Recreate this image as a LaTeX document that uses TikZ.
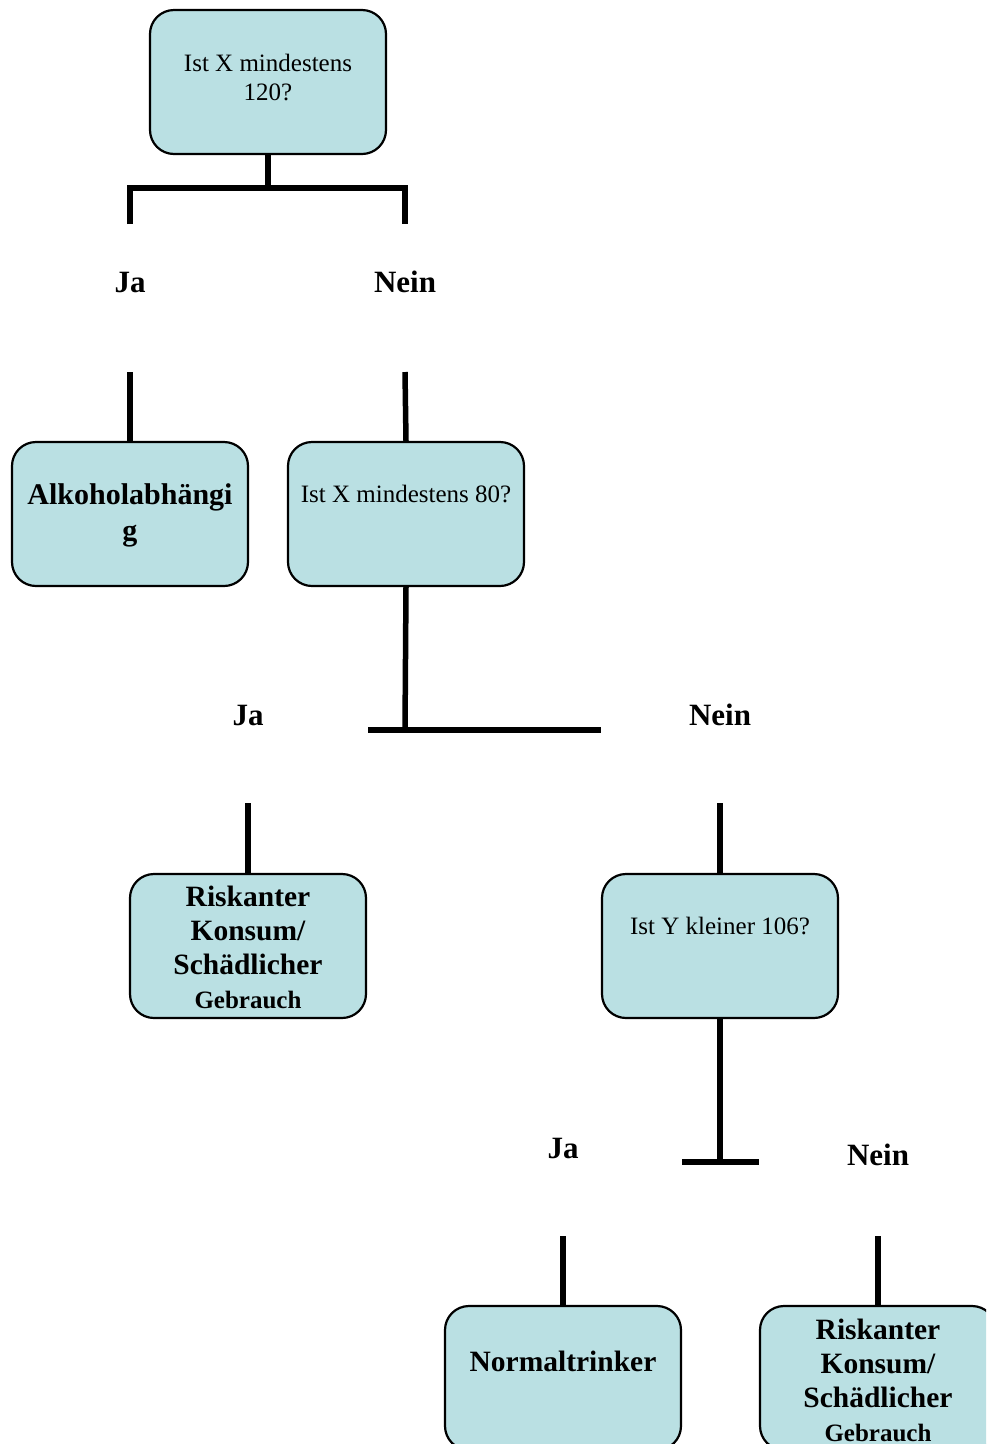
\documentclass[tikz,border=0pt]{standalone}
\usepackage{fontspec}
\setmainfont{Liberation Serif}
\definecolor{boxfill}{HTML}{BAE0E3}
\begin{document}
\begin{tikzpicture}[x=1pt,y=-1pt,
  box/.style={draw=black, line width=2.2pt, fill=boxfill, rounded corners=24pt, minimum width=236pt, minimum height=144pt, inner sep=0pt},
  conn/.style={line width=5.5pt},
  lab/.style={font=\fontsize{31}{36}\selectfont\bfseries, inner sep=0pt},
  qtext/.style={font=\fontsize{25}{29}\selectfont, align=center, inner sep=0pt},
  btext/.style={font=\fontsize{29.5}{34}\selectfont\bfseries, align=center, inner sep=0pt}]
\useasboundingbox (0,0) rectangle (986,1444);
\clip (0,0) rectangle (986,1444);
% boxes
\node[box] (b1) at (268,82) {};
\node[box] (b2) at (130,514) {};
\node[box] (b3) at (406,514) {};
\node[box] (b4) at (248,946) {};
\node[box] (b5) at (720,946) {};
\node[box] (b6) at (563,1378) {};
\node[box] (b7) at (878,1378) {};
% box texts
\node[qtext] (t1) at (268,77) {Ist X mindestens\\120?};
\node[btext,font=\fontsize{30}{36}\selectfont\bfseries] (t2) at (130,515) {Alkoholabhängi\\g};
\node[qtext] (t3) at (406,494) {Ist X mindestens 80?};
\node[btext] (t4) at (248,947) {Riskanter\\Konsum/\\Schädlicher\\{\fontsize{25}{30}\selectfont Gebrauch}};
\node[qtext] (t5) at (720,926) {Ist Y kleiner 106?};
\node[btext] (t6) at (563,1361) {Normaltrinker};
\node[btext] (t7) at (878,1380) {Riskanter\\Konsum/\\Schädlicher\\{\fontsize{25}{30}\selectfont Gebrauch}};
% labels
\node[lab] (ja1) at (130,282) {Ja};
\node[lab] (nein1) at (405,282) {Nein};
\node[lab] (ja2) at (248,715) {Ja};
\node[lab] (nein2) at (720,715) {Nein};
\node[lab] (ja3) at (563,1148) {Ja};
\node[lab] (nein3) at (878,1155) {Nein};
% junction coordinates
\coordinate (j1) at (268,188);
\coordinate (j1l) at (130,188);
\coordinate (j1r) at (405,188);
\coordinate (j1la) at (130,224);
\coordinate (j1ra) at (405,224);
\coordinate (s2) at (130,372);
\coordinate (s3) at (405,372);
\coordinate (j2) at (405,730);
\coordinate (j2l) at (368,730);
\coordinate (j2r) at (601,730);
\coordinate (s4) at (248,803);
\coordinate (s5) at (720,803);
\coordinate (j3) at (720,1162);
\coordinate (j3l) at (682,1162);
\coordinate (j3r) at (759,1162);
\coordinate (s6) at (563,1236);
\coordinate (s7) at (878,1236);
% connectors
\draw[conn] (b1.south) -- (j1);
\draw[conn] (j1la) -- (j1l) -- (j1r) -- (j1ra);
\draw[conn] (s2) -- (b2.north);
\draw[conn] (s3) -- (b3.north);
\draw[conn] (b3.south) -- (j2);
\draw[conn] (j2l) -- (j2r);
\draw[conn] (s4) -- (b4.north);
\draw[conn] (s5) -- (b5.north);
\draw[conn] (b5.south) -- (j3);
\draw[conn] (j3l) -- (j3r);
\draw[conn] (s6) -- (b6.north);
\draw[conn] (s7) -- (b7.north);
\end{tikzpicture}
\end{document}
